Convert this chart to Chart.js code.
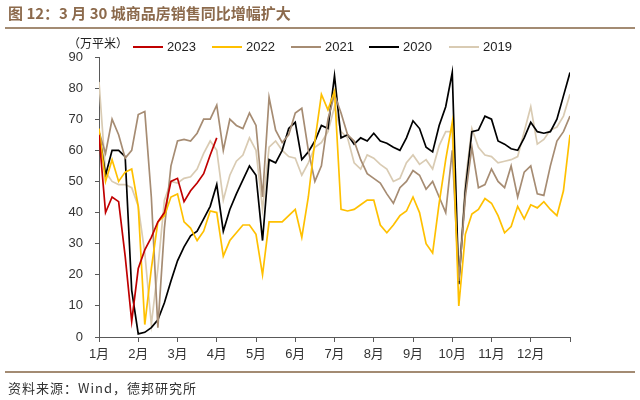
<!DOCTYPE html>
<html lang="zh-CN">
<head>
    <meta charset="UTF-8">
    <title>30城商品房销售</title>
    <script src="https://cdn.jsdelivr.net/npm/chart.js"></script>
    <style>
        body { margin: 0; background: #fff; font-family: 'Liberation Sans', 'Noto Sans CJK SC', sans-serif; }
        #pagina { position: relative; width: 640px; height: 400px; overflow: hidden; }
        #titulo { position: absolute; left: 8px; top: 2px; font-size: 15px; font-weight: bold; color: #8c6a4c; font-family: 'Noto Sans CJK SC', sans-serif; }
        .regua { position: absolute; left: 5px; right: 5px; height: 2px; background: #a38b73; }
        #unidade { position: absolute; left: 68px; top: 34px; font-size: 12px; color: #222; font-family: 'Noto Sans CJK SC', sans-serif; }
        .leg { position: absolute; top: 39px; font-size: 13px; color: #222; display: flex; align-items: center; }
        .leg span.linha { display: inline-block; width: 30px; height: 2px; margin-right: 4px; }
        #fonte { position: absolute; left: 8px; top: 378px; font-size: 13px; letter-spacing: 1px; color: #333; font-family: 'Noto Sans CJK SC', sans-serif; }
        #grafico { position: absolute; left: 0; top: 0; width: 640px; height: 400px; }
    </style>
</head>
<body>
<div id="pagina">
    <div id="grafico"><canvas id="myChartCanvas"></canvas></div>
    <div id="titulo">图 12：3 月 30 城商品房销售同比增幅扩大</div>
    <div class="regua" style="top: 27px;"></div>
    <div id="unidade">（万平米）</div>
    <div id="legenda"></div>
    <div class="regua" style="top: 371px;"></div>
    <div id="fonte">资料来源：Wind，德邦研究所</div>
</div>
<script>
    // rótulos do eixo x (início de cada mês)
    const meses = ['1月', '2月', '3月', '4月', '5月', '6月', '7月', '8月', '9月', '10月', '11月', '12月'];
    // 6 leituras por mês
    const pontosPorMes = 6;

    const s2023 = [65, 40, 45, 43.5, 26, 5, 22, 28, 32, 37, 40, 50, 51, 43.5, 47, 49.5, 52.5, 58.5, 64];

    const s2022 = [67, 50, 57, 50, 53, 54, 42, 4, 22, 37, 39, 45,
        46, 37, 35, 31, 34, 40.5, 40, 26, 31, 33.5, 36, 36,
        33, 20, 37, 37, 37, 39, 41, 32, 45, 63, 78, 73,
        79, 41, 40.5, 41, 42.5, 44, 44, 36, 33.5, 36, 39, 40.5,
        45, 40, 30, 27, 43, 57, 69, 10, 33, 39.5, 41, 44.5,
        43, 39, 33.5, 35.5, 42, 38, 42.5, 41.5, 43.5, 41, 39, 47, 65];

    const s2021 = [66, 59, 70, 65, 57.5, 60, 71.5, 72.5, 45, 3, 35, 55,
        63, 63.5, 63, 65.5, 70, 70, 74.5, 60, 70, 68, 67, 72,
        68, 45, 77, 66.5, 62.5, 65, 72, 73.5, 60, 50, 55, 70,
        78, 72, 65, 63, 57, 52.5, 51, 49.5, 46, 43, 48, 50,
        53.5, 52, 47.5, 50, 45, 40, 60, 18, 45, 61, 48, 49,
        54, 50, 48, 55, 45, 53, 55, 46, 45.5, 55, 63, 66, 71];

    const s2020 = [66, 52, 60, 60, 58, 15, 1, 1.5, 3, 5.5, 11, 18,
        24.5, 29, 32.5, 34, 38, 42, 49, 34, 41, 46, 50.5, 55,
        52, 31, 57, 56, 60, 67, 69, 57, 59.5, 63, 68, 67,
        84, 64, 65, 62, 64, 63, 65.5, 63, 62.3, 61, 60, 64,
        69.5, 67, 61, 59.5, 68, 74, 85, 17, 47, 66, 66.5, 71,
        70, 63, 62, 60.5, 60, 64, 69, 66, 65.5, 66, 70, 77.5, 85];

    const s2019 = [82, 53, 50, 49, 49, 48, 42, 27, 4, 22, 44, 50,
        49.5, 51, 51.5, 54, 59, 63, 60, 44, 52, 56.5, 58.5, 64,
        60, 41, 61, 63, 60, 58, 57.5, 52, 56, 61, 62.5, 66,
        74, 66, 64, 56, 54, 58.5, 57.5, 55.5, 54, 50, 51, 56,
        58.5, 55.5, 57, 54, 61.5, 66, 66, 19, 50, 67, 61, 58.5,
        58, 56, 56.5, 57, 58, 66, 74, 62, 63.5, 66.5, 67.5, 71, 78];

    const series = [
        { nome: '2023', dados: s2023, cor: '#c00000' },
        { nome: '2022', dados: s2022, cor: '#ffc000' },
        { nome: '2021', dados: s2021, cor: '#a68c73' },
        { nome: '2020', dados: s2020, cor: '#000000' },
        { nome: '2019', dados: s2019, cor: '#d9cbb3' }
    ];

    // legenda em HTML
    const posLegenda = [133, 212, 291, 369, 449];
    let legenda = document.getElementById('legenda');
    for (let i = 0; i < series.length; i++) {
        let item = document.createElement('div');
        item.className = 'leg';
        item.style.left = posLegenda[i] + 'px';
        item.innerHTML = `<span class="linha" style="background:${series[i].cor}"></span>${series[i].nome}`;
        legenda.appendChild(item);
    }

    const fonteEixo = { family: "'Liberation Sans', 'Noto Sans CJK SC', sans-serif", size: 13 };

    const dados = {
        datasets: series.map(function (s) {
            return {
                label: s.nome,
                data: s.dados.map((v, i) => ({ x: i / pontosPorMes, y: v })),
                borderColor: s.cor,
                backgroundColor: s.cor,
                borderWidth: 1.7,
                pointRadius: 0,
                tension: 0,
                fill: false
            };
        })
    };

    const config = {
        type: 'line',
        data: dados,
        options: {
            responsive: true,
            maintainAspectRatio: false,
            animation: false,
            layout: { padding: { left: 0, right: 70, top: 57, bottom: 35 } },
            plugins: { legend: { display: false }, tooltip: { enabled: false } },
            scales: {
                x: {
                    type: 'linear',
                    min: 0,
                    max: 12,
                    ticks: {
                        stepSize: 1,
                        autoSkip: false,
                        maxRotation: 0,
                        padding: 5,
                        color: '#333',
                        font: fonteEixo,
                        callback: v => meses[v] !== undefined ? meses[v] : ''
                    },
                    grid: { drawOnChartArea: false, drawTicks: true, tickLength: 5, color: '#595959' },
                    border: { color: '#595959', width: 1 },
                    afterFit: function (s) { s.height = 28; }
                },
                y: {
                    min: 0,
                    max: 90,
                    ticks: { stepSize: 10, padding: 12, color: '#333', font: fonteEixo },
                    grid: { drawOnChartArea: false, drawTicks: true, tickLength: 4, color: '#595959' },
                    border: { color: '#595959', width: 1 },
                    afterFit: function (s) { s.width = 99; }
                }
            }
        }
    };

    let myChart = new Chart(document.getElementById('myChartCanvas'), config);
</script>
</body>
</html>
